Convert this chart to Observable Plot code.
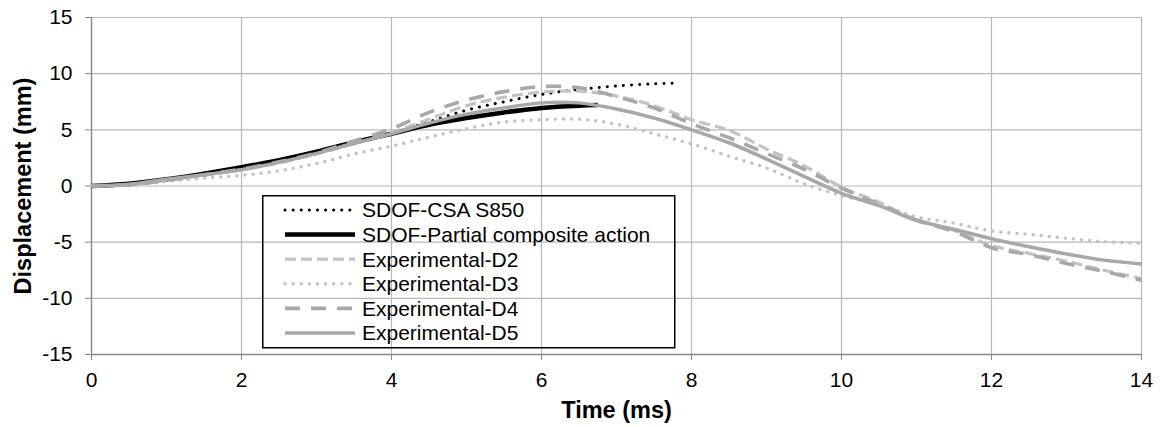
<!DOCTYPE html>
<html>
<head>
<meta charset="utf-8">
<script src="https://cdn.jsdelivr.net/npm/d3@7"></script>
<script src="https://cdn.jsdelivr.net/npm/@observablehq/plot@0.6"></script>
<style>
  body { margin: 0; background: #fff; }
  #wrap { position: relative; width: 1160px; height: 427px; font-family: "Liberation Sans", Arial, sans-serif; }
  #legend { position: absolute; left: 262px; top: 195px; }
</style>
</head>
<body>
<div id="wrap"></div>
<script>
// ---- data ----
const xTicks = [0, 2, 4, 6, 8, 10, 12, 14];
const yTicks = [-15, -10, -5, 0, 5, 10, 15];
const seriesNames = ["SDOF-CSA S850", "SDOF-Partial composite action", "Experimental-D2", "Experimental-D3", "Experimental-D4", "Experimental-D5"];

const tCSA = [0, 0.5, 1, 1.5, 2, 2.5, 3, 3.5, 4, 4.5, 5, 5.5, 6, 6.5, 7, 7.5, 7.75];
const vCSA = [0, 0.2, 0.6, 1.1, 1.65, 2.25, 3.0, 3.8, 4.7, 5.7, 6.75, 7.5, 8.15, 8.6, 8.9, 9.1, 9.15];

const tPartial = [0, 0.5, 1, 1.5, 2, 2.5, 3, 3.5, 4, 4.5, 5, 5.5, 6, 6.5, 6.75];
const vPartial = [0, 0.2, 0.6, 1.1, 1.67, 2.3, 3.05, 3.9, 4.65, 5.45, 6.05, 6.55, 6.95, 7.15, 7.2];

const tExp = [0, 0.5, 1, 1.5, 2, 2.5, 3, 3.5, 4, 4.5, 5, 5.5, 6, 6.5, 7, 7.5, 8, 8.5, 9, 9.5, 10, 10.5, 11, 11.5, 12, 12.5, 13, 13.5, 14];
const vD2 = [0, 0.1, 0.5, 0.95, 1.45, 2.05, 2.85, 3.75, 4.75, 5.95, 7.15, 7.9, 8.35, 8.45, 8.0, 7.15, 5.9, 4.95, 3.3, 1.8, -0.1, -1.45, -3.0, -3.95, -5.3, -6.0, -6.7, -7.5, -8.25];
const vD3 = [0, 0.1, 0.4, 0.7, 0.95, 1.35, 2.0, 2.85, 3.55, 4.35, 5.1, 5.7, 5.9, 5.95, 5.5, 4.65, 3.75, 2.65, 1.6, 0.2, -0.85, -1.65, -2.75, -3.3, -4.0, -4.3, -4.65, -4.95, -5.1];
const vD4 = [0, 0.1, 0.5, 1.0, 1.5, 2.15, 2.95, 4.0, 5.1, 6.55, 7.65, 8.4, 8.85, 8.75, 7.95, 6.95, 5.55, 4.3, 2.9, 1.5, -0.2, -1.6, -3.05, -4.05, -5.5, -6.1, -6.9, -7.6, -8.4];
const vD5 = [0, 0.15, 0.6, 1.0, 1.45, 2.1, 2.9, 3.8, 4.65, 5.6, 6.4, 6.95, 7.4, 7.4, 6.85, 6.05, 5.0, 3.85, 2.4, 0.85, -0.65, -1.75, -3.05, -3.85, -4.7, -5.4, -6.05, -6.6, -6.95];

// ---- styles ----
const seriesStyles = [
  {stroke: "#000000", strokeWidth: 3, strokeDasharray: "0.1 8", strokeLinecap: "round"},
  {stroke: "#000000", strokeWidth: 4.5, strokeDasharray: null, strokeLinecap: "butt"},
  {stroke: "#c3c3c3", strokeWidth: 3.2, strokeDasharray: "11 5", strokeLinecap: "butt"},
  {stroke: "#c3c3c3", strokeWidth: 3.4, strokeDasharray: "0.1 8", strokeLinecap: "round"},
  {stroke: "#a8a8a8", strokeWidth: 3.6, strokeDasharray: "15 11", strokeLinecap: "butt"},
  {stroke: "#a8a8a8", strokeWidth: 3.5, strokeDasharray: null, strokeLinecap: "butt"}
];

const seriesData = [
  [tCSA, vCSA], [tPartial, vPartial], [tExp, vD2], [tExp, vD3], [tExp, vD4], [tExp, vD5]
];
const rows = [];
seriesData.forEach(([ts, vs], i) => ts.forEach((t, j) => rows.push({s: seriesNames[i], t, v: vs[j]})));

const gridColor = "#b8b8b8";
const axisColor = "#878787";

const lineMarks = seriesNames.map((name, i) => {
  const st = seriesStyles[i];
  const o = {x: "t", y: "v", stroke: st.stroke, strokeWidth: st.strokeWidth, strokeLinecap: st.strokeLinecap, strokeLinejoin: "round", curve: "catmull-rom"};
  if (st.strokeDasharray) o.strokeDasharray = st.strokeDasharray;
  return Plot.line(rows.filter(d => d.s === name), o);
});

const chart = Plot.plot({
  width: 1160,
  height: 427,
  marginLeft: 91,
  marginRight: 19,
  marginTop: 17,
  marginBottom: 73,
  style: {fontFamily: '"Liberation Sans", Arial, sans-serif', fontSize: "21px", color: "#000", background: "#fff"},
  x: {domain: [0, 14]},
  y: {domain: [-15, 15]},
  marks: [
    Plot.gridX(xTicks, {stroke: gridColor, strokeOpacity: 1, strokeWidth: 1.2}),
    Plot.gridY(yTicks, {stroke: gridColor, strokeOpacity: 1, strokeWidth: 1.2}),
    Plot.ruleX([0], {stroke: axisColor, strokeWidth: 1.3}),
    Plot.ruleY([-15], {stroke: axisColor, strokeWidth: 1.3}),
    Plot.axisX(xTicks, {tickSize: 6, tickPadding: 12, stroke: axisColor, fill: "#000", label: null, tickFormat: d => String(d)}),
    Plot.axisY(yTicks, {tickSize: 6, tickPadding: 13, stroke: axisColor, fill: "#000", label: null, tickFormat: d => String(d)}),
    ...lineMarks,
    Plot.text(["Time (ms)"], {text: d => d, frameAnchor: "bottom", dy: 63, textAnchor: "middle", fontWeight: "bold", fontSize: 23.5, fill: "#000"}),
    Plot.text(["Displacement (mm)"], {text: d => d, frameAnchor: "left", dx: -68, rotate: -90, textAnchor: "middle", fontWeight: "bold", fontSize: 23.5, fill: "#000"})
  ]
});

const wrap = document.getElementById("wrap");
wrap.appendChild(chart);

// ---- legend (overlay) ----
const lw = 414, lh = 154;
const legend = d3.select(wrap).append("svg")
  .attr("id", "legend")
  .attr("width", lw)
  .attr("height", lh);
legend.append("rect")
  .attr("x", 0.75).attr("y", 0.75)
  .attr("width", lw - 2).attr("height", lh - 2)
  .attr("fill", "none").attr("stroke", "#000").attr("stroke-width", 1.5);
seriesNames.forEach((name, i) => {
  const st = seriesStyles[i];
  const cy = 15 + i * 24.6;
  const ln = legend.append("line")
    .attr("x1", 23).attr("x2", 93).attr("y1", cy).attr("y2", cy)
    .attr("stroke", st.stroke).attr("stroke-width", st.strokeWidth)
    .attr("stroke-linecap", st.strokeLinecap);
  if (st.strokeDasharray) ln.attr("stroke-dasharray", st.strokeDasharray);
  legend.append("text")
    .attr("x", 100).attr("y", cy).attr("dy", "0.35em")
    .attr("font-family", '"Liberation Sans", Arial, sans-serif')
    .attr("font-size", 21)
    .attr("fill", "#000")
    .text(name);
});
</script>
</body>
</html>
